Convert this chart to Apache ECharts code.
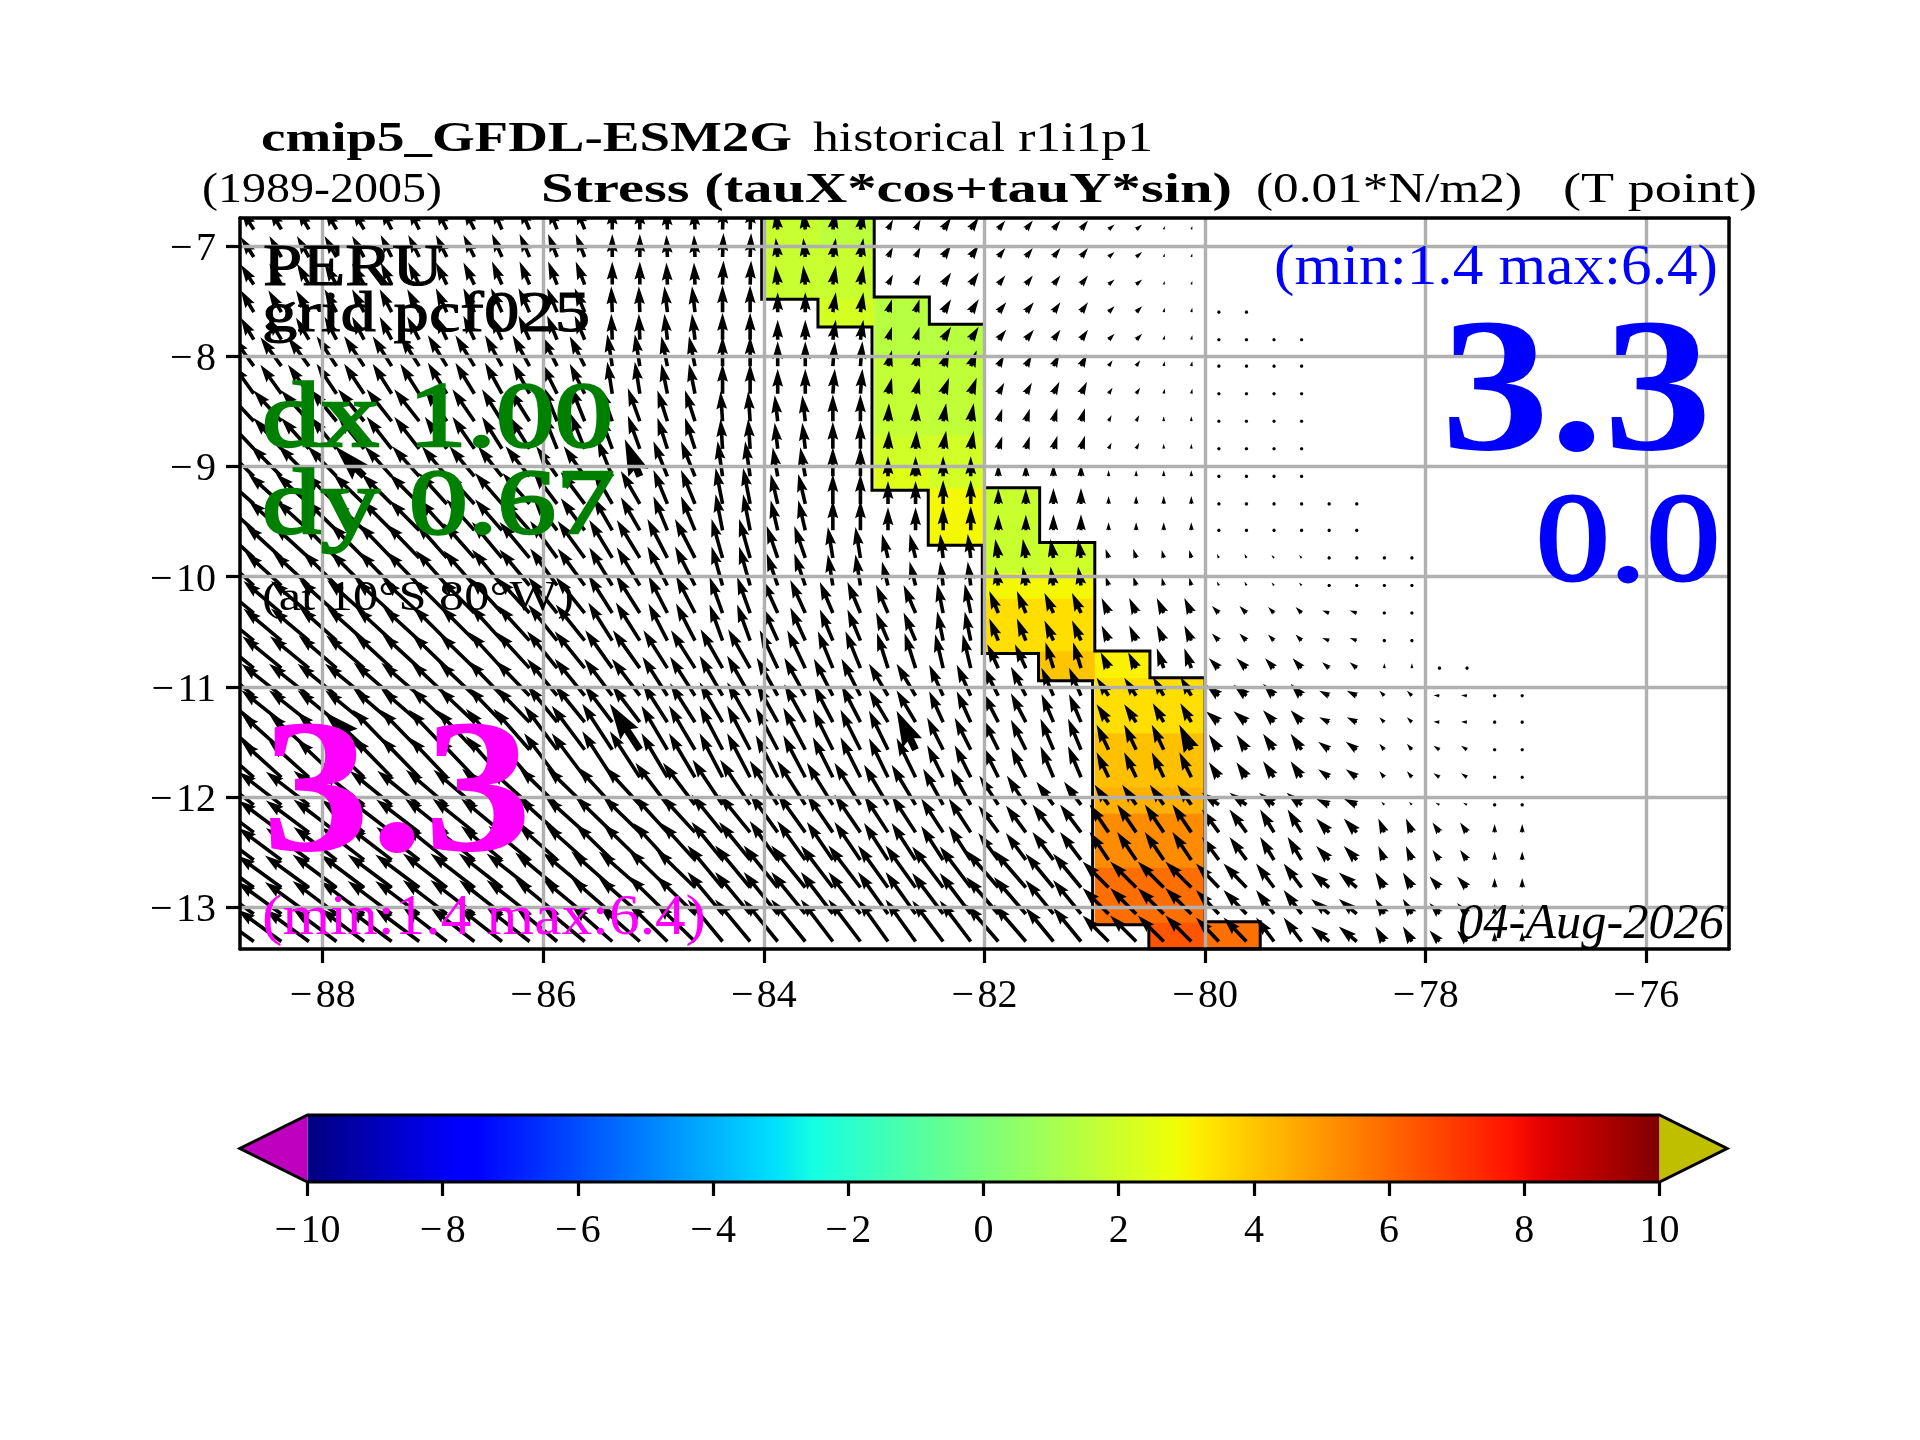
<!DOCTYPE html>
<html><head><meta charset="utf-8">
<style>html,body{margin:0;padding:0;background:#fff}#c{width:1920px;height:1440px}</style>
<script src="https://cdn.jsdelivr.net/npm/echarts@6/dist/echarts.min.js"></script>
</head><body><div id="c"></div>
<script>
// ---------- axis ticks ----------
const lonTicks=[-88,-86,-84,-82,-80,-78,-76];
const latTicks=[-13,-12,-11,-10,-9,-8,-7];
const cbTicks=[-10,-8,-6,-4,-2,0,2,4,6,8,10];
// ---------- arrow grid ----------
const arrowLon=[-88.625,-88.375,-88.125,-87.875,-87.625,-87.375,-87.125,-86.875,-86.625,-86.375,-86.125,-85.875,-85.625,-85.375,-85.125,-84.875,-84.625,-84.375,-84.125,-83.875,-83.625,-83.375,-83.125,-82.875,-82.625,-82.375,-82.125,-81.875,-81.625,-81.375,-81.125,-80.875,-80.625,-80.375,-80.125,-79.875,-79.625,-79.375,-79.125,-78.875,-78.625,-78.375,-78.125,-77.875,-77.625,-77.375,-77.125];
const arrowLat=[-6.85,-7.10,-7.35,-7.60,-7.85,-8.09,-8.34,-8.59,-8.84,-9.09,-9.34,-9.58,-9.83,-10.08,-10.33,-10.58,-10.83,-11.08,-11.32,-11.57,-11.82,-12.07,-12.32,-12.57,-12.82,-13.06,-13.31];
// easternmost ocean arrow on each row
const rowEast=[-80.125,-80.125,-80.125,-79.625,-79.125,-79.125,-79.125,-79.125,-79.125,-79.125,-78.625,-78.625,-78.125,-78.125,-78.125,-78.125,-77.625,-77.125,-77.125,-77.125,-77.125,-77.125,-77.125,-77.125,-77.125,-77.125,-77.125];
// which latitude band each row belongs to
const rowBand=[0,0,0,1,1,2,2,3,3,4,5,5,6,6,7,7,8,9,9,10,10,11,12,12,13,13,13];
// which 0.5 degree longitude block each column belongs to
const colBlock=[0,1,1,2,2,3,3,4,4,5,5,6,6,7,7,8,8,9,9,10,10,11,11,12,12,13,13,14,14,15,15,16,16,17,17,18,18,19,19,20,20,21,21,22,22,23,23];
// ---------- stress components, 0.01 N/m2, read per band and block ----------
const tauX=[
[-1.3,-1.2,-1.2,-1.1,-1.1,-1.0,-.9,0,-.1,.1,-.2,.3,.5,.8,.7,.7,.6,.1,0,0,0,0,0,0],
[-1.3,-1.3,-1.2,-1.2,-1.1,-1.1,-1.0,-.1,-.3,0,0,.3,.4,.8,.8,.7,.6,.1,0,0,0,0,0,0],
[-2.1,-2.1,-2.0,-1.9,-1.9,-1.7,-1.5,-.5,-.6,0,0,.2,.4,.6,.6,.6,.4,.1,.1,.1,0,0,0,0],
[-2.8,-2.8,-2.6,-2.5,-2.2,-2.0,-1.4,-1.2,-1.0,-.2,-.3,0,.1,.3,.4,.4,.3,0,0,0,0,0,0,0],
[-3.2,-3.1,-2.9,-2.7,-2.5,-2.4,-2.1,-1.5,-1.4,-.5,-.5,0,0,0,0,0,0,0,0,0,0,0,0,0],
[-3.4,-3.3,-3.1,-3.0,-2.8,-2.7,-2.4,-1.9,-1.4,-.7,-.7,0,0,0,0,0,0,0,0,0,0,0,0,0],
[-3.6,-3.6,-3.4,-3.3,-3.1,-3.0,-2.7,-2.3,-2.0,-1.1,-1.1,-.5,-.6,-.3,-.3,-.3,-.3,-.2,-.2,-.25,-.2,.1,0,0],
[-3.9,-3.8,-3.7,-3.6,-3.4,-3.2,-2.9,-2.4,-1.9,-1.3,-1.5,-1.3,-1.2,-.6,-.9,-.9,-.7,-.7,-.7,-.6,-.7,.1,0,0],
[-3.9,-3.9,-3.8,-3.7,-3.5,-3.3,-3.0,-2.7,-2.4,-2.2,-1.8,-1.5,-1.1,-.8,-1.1,-.8,-.8,-.7,-1.0,-.9,-.7,0,.1,0],
[-4.0,-4.0,-3.9,-3.8,-3.6,-3.4,-3.0,-2.8,-2.5,-2.3,-2.1,-1.9,-1.9,-1.4,-1.5,-1.2,-1.2,-1.1,-1.3,-1.1,-1.0,-.5,-.6,.1],
[-4.0,-4.0,-4.0,-3.9,-3.8,-3.6,-3.3,-3.0,-2.6,-2.3,-2.2,-2.0,-1.9,-1.6,-1.5,-1.3,-1.2,-1.2,-1.0,-1.1,-1.1,-.5,-.6,0],
[-4.3,-4.3,-4.3,-4.2,-4.1,-4.0,-3.8,-3.5,-3.2,-3.0,-2.8,-2.6,-2.4,-2.0,-1.9,-1.7,-1.4,-1.4,-1.7,-1.5,-1.3,-.3,-.4,.2],
[-4.3,-4.3,-4.3,-4.3,-4.2,-4.1,-3.9,-3.7,-3.4,-3.1,-2.8,-2.6,-2.4,-2.2,-2.0,-2.1,-1.9,-1.9,-1.7,-1.4,-1.3,-.6,-.7,0],
[-4.4,-4.4,-4.4,-4.4,-4.4,-4.3,-4.2,-4.1,-3.9,-3.5,-3.4,-3.2,-3.0,-3.1,-3.2,-2.8,-2.6,-2.6,-2.3,-1.8,-1.8,-.9,-1.0,0]];
const tauY=[
[2.0,2.1,2.1,2.2,2.2,2.3,2.3,2.3,2.2,2.4,1.9,1.9,1.0,1.2,.9,.9,.5,.35,0,0,0,0,0,0],
[2.2,2.2,2.3,2.3,2.4,2.4,2.4,2.6,2.6,2.7,2.0,2.0,1.3,1.3,1.0,1.0,.6,.45,.1,.1,0,0,0,0],
[2.9,2.9,3.0,3.0,3.1,3.1,3.0,3.2,3.0,3.0,2.5,2.5,1.6,1.6,1.1,1.2,.6,.5,.2,.1,0,0,0,0],
[3.0,3.1,3.2,3.2,3.2,3.2,3.5,3.3,3.1,3.0,2.6,2.7,1.8,1.8,1.25,1.3,.6,.5,.15,.15,0,0,0,0],
[3.1,3.1,3.0,3.0,3.0,3.0,3.0,3.7,3.5,3.5,2.9,2.9,2.0,2.0,1.2,1.2,.6,.6,.25,.2,0,0,0,0],
[3.0,3.0,3.0,3.0,3.1,3.1,3.2,3.3,3.4,3.6,3.0,3.0,2.3,2.4,1.55,1.6,.8,.8,.35,.3,.1,0,0,0],
[3.3,3.3,3.4,3.4,3.5,3.6,3.7,3.8,3.9,3.9,3.2,3.1,2.4,2.4,1.9,1.9,.9,.8,.4,.3,.05,0,0,0],
[3.2,3.2,3.3,3.3,3.4,3.5,3.6,3.8,3.7,3.6,3.3,3.1,2.8,2.9,2.2,2.0,1.5,1.5,.7,.6,.25,.05,0,0],
[3.2,3.2,3.3,3.4,3.4,3.6,3.7,3.8,3.8,3.9,3.8,3.7,3.5,3.4,2.4,2.6,1.6,2.0,1.0,1.0,.6,.5,.05,0],
[3.2,3.2,3.2,3.3,3.4,3.5,3.7,3.7,3.9,4.0,3.8,3.7,3.2,3.1,2.9,2.8,1.8,1.9,1.1,1.2,.5,.5,.05,.05],
[3.5,3.6,3.8,4.0,4.0,4.1,4.4,4.6,4.4,4.4,4.2,4.0,3.9,3.2,3.0,3.1,2.5,2.5,1.5,1.6,.8,.6,.4,.35],
[3.3,3.3,3.4,3.4,3.5,3.6,3.7,3.8,4.2,4.5,4.4,4.2,4.0,3.6,2.9,2.3,2.0,2.0,1.2,1.2,.6,.3,.2,0],
[3.2,3.2,3.3,3.3,3.4,3.4,3.5,3.6,3.7,3.8,3.9,3.8,3.7,3.4,2.7,2.8,2.8,2.8,2.3,2.3,1.4,1.4,1.0,.85],
[3.2,3.2,3.3,3.3,3.4,3.4,3.5,3.6,3.8,4.2,4.2,4.2,4.2,4.1,3.7,3.4,2.6,2.6,2.4,2.4,1.5,1.5,1.1,.95]];
// ---------- coloured cells ----------
const cellWest=[-84,-83.5,-83.5,-83.5,-83,-83,-83,-83,-82.5,-82.5,-82.5,-82.5,-82,-82,-82,-81.5,-81.5,-81.5,-81.5,-81,-81,-81,-81,-81,-81,-80.5,-80.5,-80.5,-80.5,-80.5,-80.5,-80];
const cellEast=[-83.5,-83,-83,-83,-82.5,-82.5,-82.5,-82.5,-82,-82,-82,-82,-81.5,-81.5,-81.5,-81,-81,-81,-81,-80.5,-80.5,-80.5,-80.5,-80.5,-80.5,-80,-80,-80,-80,-80,-80,-79.5];
const cellTop=[-6.75,-6.75,-7.01,-7.478,-7.463,-7.977,-8.72,-9.0,-7.71,-7.977,-8.72,-9.2,-9.193,-9.97,-10.2,-9.69,-9.97,-10.2,-10.68,-10.675,-10.92,-11.42,-11.91,-12.15,-12.64,-10.917,-11.42,-11.91,-12.15,-12.64,-13.14,-13.13];
const cellBot=[-7.484,-7.01,-7.478,-7.735,-7.977,-8.72,-9.0,-9.217,-7.977,-8.72,-9.2,-9.716,-9.97,-10.2,-10.696,-9.97,-10.2,-10.68,-10.945,-10.92,-11.42,-11.91,-12.15,-12.64,-13.157,-11.42,-11.91,-12.15,-12.64,-13.14,-13.378,-13.378];
const cellVal=[1.87,1.57,1.87,2.16,1.43,1.71,2.06,2.44,1.43,1.67,2.1,2.93,1.87,2.93,3.5,2.0,2.93,3.5,4.05,3.07,3.5,4.13,4.47,5.23,5.87,3.5,4.13,4.47,5.23,5.87,6.4,5.83];
// ---------- land mask outline ----------
const maskLon=[-84.02,-84.02,-83.51,-83.51,-83.02,-83.02,-82.51,-82.51,-82.02,-82.02,-81.51,-81.51,-81.02,-81.02,-80.51,-80.51,-79.5,-79.5,-80,-80,-80.5,-80.5,-81,-81,-81.5,-81.5,-82,-82,-82.5,-82.5,-83,-83];
const maskLat=[-6.75,-7.484,-7.484,-7.735,-7.735,-9.217,-9.217,-9.716,-9.716,-10.696,-10.696,-10.945,-10.945,-13.157,-13.157,-13.378,-13.378,-13.13,-13.13,-10.917,-10.917,-10.675,-10.675,-9.69,-9.69,-9.193,-9.193,-7.71,-7.71,-7.463,-7.463,-6.75];

// ---------- jet colour map ----------
const jetR=[[0,0],[.35,0],[.66,1],[.89,1],[1,.5]];
const jetG=[[0,0],[.125,0],[.375,1],[.64,1],[.91,0],[1,0]];
const jetB=[[0,.5],[.11,1],[.34,1],[.65,0],[1,0]];
function seg(t,p){for(let i=1;i<p.length;i++){if(t<=p[i][0]){const a=p[i-1],b=p[i];return a[1]+(b[1]-a[1])*(t-a[0])/(b[0]-a[0]);}}return p[p.length-1][1];}
function jet(v){const t=Math.max(0,Math.min(1,(v+10)/20));return 'rgb('+[jetR,jetG,jetB].map(p=>Math.round(255*seg(t,p))).join(',')+')';}

const QUIVER_PX=10, SHAFT=3.6;
const cellData=cellVal.map((v,i)=>[cellWest[i],cellEast[i],cellTop[i],cellBot[i],v]);
const arrowData=[];
arrowLat.forEach((lat,k)=>{arrowLon.forEach((lon,i)=>{
  if(lon>rowEast[k])return;
  const b=rowBand[k],c=colBlock[i];
  arrowData.push([lon,lat,tauX[b][c],tauY[b][c],(i%10===4&&k%10===9)?2:1]);
});});
const maskData=maskLon.map((x,i)=>[x,maskLat[i]]);

function arrowShape(px,py,u,v,w){
  let L=Math.hypot(u,v)*QUIVER_PX;
  if(L<SHAFT){ // dot
    const r=SHAFT/2,pts=[];
    for(let a=0;a<6;a++)pts.push([px+r*Math.cos(a*Math.PI/3),py+r*Math.sin(a*Math.PI/3)]);
    return pts;
  }
  let hl=5*w,hal=4.5*w,hw=1.5*w,sw=w/2;
  if(L<hl){const s=L/hl;hl*=s;hal*=s;hw*=s;sw*=s;}
  const ca=u/Math.hypot(u,v),sa=-v/Math.hypot(u,v);
  const P=(a,b)=>[px+a*ca-b*sa,py+a*sa+b*ca];
  return [P(0,-sw),P(L-hal,-sw),P(L-hl,-hw),P(L,0),P(L-hl,hw),P(L-hal,sw),P(0,sw)];
}

const ctx=document.createElement('canvas').getContext('2d');
function label(text,x,base,x2,size,color,weight,style,thick){
  const w=weight||'normal',st=style||'normal',fam='"Liberation Serif"';
  ctx.font=st+' '+w+' '+size+'px '+fam;
  const sx=(x2-x)/ctx.measureText(text).width;
  const s={text:text,x:0,y:0,fill:color,fontFamily:fam,fontSize:size,fontWeight:w,fontStyle:st,align:'left',verticalAlign:'middle'};
  if(thick){s.stroke=color;s.lineWidth=thick;}
  return {type:'text',x:x,y:base-0.275*size,scaleX:sx,z:100,silent:true,style:s};
}
const texts=[
 label('cmip5_GFDL-ESM2G',261,152,792,43,'#000','bold'),
 label('historical r1i1p1',813,152,1153,43,'#000'),
 label('(1989-2005)',202,203,442,43,'#000'),
 label('Stress (tauX*cos+tauY*sin)',541,203,1232,43,'#000','bold'),
 label('(0.01*N/m2)',1256,203,1522,43,'#000'),
 label('(T point)',1563,203,1757,43,'#000'),
 label('PERU',263,286,443,60,'#000','normal','normal',1),
 label('grid pcf025',262,332,590,56,'#000','normal','normal',1),
 label('dx 1.00',262,447,613,94,'#008000','normal','normal',2.5),
 label('dy 0.67',262,534,615,94,'#008000','normal','normal',2.5),
 label('(at 10°S 80°W)',262,611,574,42,'#000'),
 label('3.3',262,853,532,190,'#ff00ff','bold'),
 label('(min:1.4 max:6.4)',262,935,706,57,'#ff00ff'),
 label('(min:1.4 max:6.4)',1274,285,1718,57,'#0000ff'),
 label('3.3',1441,452,1712,190,'#0000ff','bold'),
 label('0.0',1536,582,1720,125,'#0000ff','normal','normal',3),
 label('04-Aug-2026',1458,939,1724,50,'#000','normal','italic')
];

const minus=v=>String(v).replace('-','\u2212\u200a');
const FONT='"Liberation Serif"';
const XMIN=-88.75,XMAX=-75.25,YMIN=-13.378,YMAX=-6.746;
const chart=echarts.init(document.getElementById('c'),null,{renderer:'canvas',width:1920,height:1440});
chart.setOption({
 animation:false,backgroundColor:'#fff',
 grid:[{left:240,top:218,width:1489,height:731,show:false},{left:307.5,top:1115,width:1352,height:67,show:false}],
 xAxis:[
  {type:'value',gridIndex:0,position:'bottom',min:XMIN,max:XMAX,z:4,
   axisLine:{show:true,onZero:false,lineStyle:{color:'#000',width:3.5}},
   axisTick:{show:true,length:14,customValues:lonTicks,lineStyle:{color:'#000',width:3.2}},
   axisLabel:{show:true,margin:27,customValues:lonTicks,fontFamily:FONT,fontSize:40,color:'#000',formatter:minus},
   splitLine:{show:true,lineStyle:{color:'#b0b0b0',width:3.4}}},
  {type:'value',gridIndex:0,position:'top',min:XMIN,max:XMAX,z:5,
   axisLine:{show:true,onZero:false,lineStyle:{color:'#000',width:3.5}},axisTick:{show:false},axisLabel:{show:false},splitLine:{show:false}},
  {type:'value',gridIndex:1,position:'bottom',min:-10,max:10,z:6,
   axisLine:{show:false,onZero:false},
   axisTick:{show:true,length:14,customValues:cbTicks,lineStyle:{color:'#000',width:3.2}},
   axisLabel:{show:true,margin:29,customValues:cbTicks,fontFamily:FONT,fontSize:40,color:'#000',formatter:minus},
   splitLine:{show:false}}
 ],
 yAxis:[
  {type:'value',gridIndex:0,position:'left',min:YMIN,max:YMAX,z:4,
   axisLine:{show:true,onZero:false,lineStyle:{color:'#000',width:3.5}},
   axisTick:{show:true,length:14,customValues:latTicks,lineStyle:{color:'#000',width:3.2}},
   axisLabel:{show:true,margin:24,verticalAlign:'top',lineHeight:7,customValues:latTicks,fontFamily:FONT,fontSize:40,color:'#000',formatter:minus},
   splitLine:{show:true,lineStyle:{color:'#b0b0b0',width:3.4}}},
  {type:'value',gridIndex:0,position:'right',min:YMIN,max:YMAX,z:5,
   axisLine:{show:true,onZero:false,lineStyle:{color:'#000',width:3.5}},axisTick:{show:false},axisLabel:{show:false},splitLine:{show:false}},
  {type:'value',gridIndex:1,min:0,max:1,show:false}
 ],
 series:[
  {type:'custom',name:'cells',xAxisIndex:0,yAxisIndex:0,z:1,clip:true,silent:true,data:cellData,
   encode:{x:[0,1],y:[2,3]},
   renderItem:(p,api)=>{
    const a=api.coord([api.value(0),api.value(2)]),b=api.coord([api.value(1),api.value(3)]);
    return {type:'rect',shape:{x:a[0],y:a[1],width:b[0]-a[0]+0.5,height:b[1]-a[1]+0.5},style:{fill:jet(api.value(4))}};
   }},
  {type:'line',name:'mask',xAxisIndex:0,yAxisIndex:0,z:2,silent:true,data:maskData,showSymbol:false,symbol:'none',
   lineStyle:{color:'#000',width:3,join:'miter'}},
  {type:'custom',name:'stress',xAxisIndex:0,yAxisIndex:0,z:3,clip:true,silent:true,data:arrowData,
   encode:{x:0,y:1},
   renderItem:(p,api)=>{
    const c=api.coord([api.value(0),api.value(1)]);
    return {type:'polygon',shape:{points:arrowShape(c[0],c[1],api.value(2),api.value(3),SHAFT*api.value(4))},style:{fill:'#000'}};
   }},
  {type:'custom',name:'colorbar',xAxisIndex:2,yAxisIndex:2,z:3,clip:false,silent:true,data:[[0]],
   encode:{x:0},
   renderItem:(p,api)=>{
    const L=api.coord([-10,1]),R=api.coord([10,0]);
    const tl=api.coord([-11,.5]),tr=api.coord([11,.5]);
    const stops=[];for(let i=0;i<=64;i++)stops.push({offset:i/64,color:jet(-10+20*i/64)});
    const bw=R[0]-L[0],bh=R[1]-L[1];
    return {type:'group',children:[
     {type:'rect',shape:{x:L[0],y:L[1],width:bw,height:bh},style:{fill:new echarts.graphic.LinearGradient(0,0,1,0,stops)}},
     {type:'polygon',shape:{points:[[L[0],L[1]],[tl[0],tl[1]],[L[0],R[1]]]},style:{fill:'#bf00bf'}},
     {type:'polygon',shape:{points:[[R[0],L[1]],[tr[0],tr[1]],[R[0],R[1]]]},style:{fill:'#bfbf00'}},
     {type:'polygon',shape:{points:[[L[0],L[1]],[R[0],L[1]],[tr[0],tr[1]],[R[0],R[1]],[L[0],R[1]],[tl[0],tl[1]]]},style:{fill:'none',stroke:'#000',lineWidth:3,lineJoin:'miter'}}
    ]};
   }}
 ],
 graphic:texts
});
</script></body></html>
